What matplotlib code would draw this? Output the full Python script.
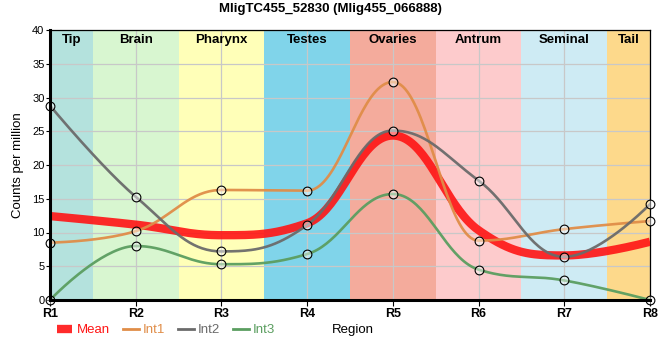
import numpy as np
import matplotlib
matplotlib.use('Agg')
import matplotlib.pyplot as plt
from matplotlib.lines import Line2D

plt.rcParams['font.family'] = ['Liberation Sans', 'DejaVu Sans']

# data
regions = ['R1', 'R2', 'R3', 'R4', 'R5', 'R6', 'R7', 'R8']
int1 = [8.5, 10.2, 16.3, 16.2, 32.3, 8.8, 10.5, 11.7]
int2 = [28.8, 15.3, 7.2, 11.1, 25.1, 17.7, 6.4, 14.2]
int3 = [0.0, 8.0, 5.3, 6.8, 15.7, 4.5, 2.9, 0.0]
mean = list(np.mean([int1, int2, int3], axis=0))

tissues = ['Tip', 'Brain', 'Pharynx', 'Testes', 'Ovaries', 'Antrum', 'Seminal', 'Tail']
tissue_colors = ['#b4e2dd', '#d8f6d0', '#ffffb8', '#80d4ea',
                 '#f4ab9c', '#fdcbcc', '#ceebf4', '#fdd98b']


def spline(xs, ys, n=40):
    # highcharts-like spline: control points at 0.4*dx, flattened at extremes
    xs = np.asarray(xs, float)
    ys = np.asarray(ys, float)
    m = len(xs)
    lc = [(x, y) for x, y in zip(xs, ys)]
    rc = [(x, y) for x, y in zip(xs, ys)]
    s, d = 1.5, 2.5
    for i in range(1, m - 1):
        lx, ly = xs[i - 1], ys[i - 1]
        px, py = xs[i], ys[i]
        nx, ny = xs[i + 1], ys[i + 1]
        lcx = (s * px + lx) / d
        lcy = (s * py + ly) / d
        rcx = (s * px + nx) / d
        rcy = (s * py + ny) / d
        corr = (rcy - lcy) * (rcx - px) / (rcx - lcx) + py - rcy
        lcy += corr
        rcy += corr
        if lcy > ly and lcy > py:
            lcy = max(ly, py)
            rcy = 2 * py - lcy
        elif lcy < ly and lcy < py:
            lcy = min(ly, py)
            rcy = 2 * py - lcy
        if rcy > ny and rcy > py:
            rcy = max(ny, py)
            lcy = 2 * py - rcy
        elif rcy < ny and rcy < py:
            rcy = min(ny, py)
            lcy = 2 * py - rcy
        lc[i] = (lcx, lcy)
        rc[i] = (rcx, rcy)
    t = np.linspace(0, 1, n)[:, None]
    out = []
    for i in range(m - 1):
        p0 = np.array([xs[i], ys[i]])
        p1 = np.array(rc[i])
        p2 = np.array(lc[i + 1])
        p3 = np.array([xs[i + 1], ys[i + 1]])
        b = ((1 - t) ** 3) * p0 + 3 * ((1 - t) ** 2) * t * p1 + 3 * (1 - t) * t ** 2 * p2 + t ** 3 * p3
        out.append(b if i == 0 else b[1:])
    out = np.vstack(out)
    return out[:, 0], out[:, 1]


fig = plt.figure(figsize=(6.6, 3.6), dpi=100)
ax = fig.add_axes([50 / 660, 60 / 360, 600 / 660, 270 / 360])

x = np.arange(len(regions))

# tissue bands
edges = [0, 0.5, 1.5, 2.5, 3.5, 4.5, 5.5, 6.5, 7]
for i, name in enumerate(tissues):
    ax.axvspan(edges[i], edges[i + 1], color=tissue_colors[i], lw=0, zorder=0)
    ax.text((edges[i] + edges[i + 1]) / 2, 39.4, name, ha='center', va='top',
            fontsize=9.5, fontweight='bold', zorder=5)

ax.grid(True, color='#c8c8c8', lw=0.9, zorder=1)

series = [
    ('Int1', int1, '#e08d48'),
    ('Int2', int2, '#6b6b6b'),
    ('Int3', int3, '#5b9e60'),
]

mx, my = spline(x, mean)
ax.plot(mx, my, color='#ff1414', lw=6, alpha=0.9, solid_capstyle='butt', zorder=3)
for name, vals, col in series:
    sx, sy = spline(x, vals)
    ax.plot(sx, sy, color=col, lw=1.9, alpha=0.95, zorder=4)
for name, vals, col in series:
    ax.plot(x, vals, 'o', ms=6.3, mfc=(1, 1, 1, 0.45), mec='black', mew=0.8,
            zorder=6, clip_on=False)

ax.set_xlim(0, 7)
ax.set_ylim(0, 40)
ax.set_xticks(x)
ax.set_xticklabels(regions, fontsize=9, fontweight='bold')
ax.set_yticks(np.arange(0, 41, 5))
ax.tick_params(axis='y', labelsize=8, length=3, pad=1)
ax.tick_params(axis='x', length=4, pad=2)

for side in ['left', 'bottom']:
    ax.spines[side].set_linewidth(2.2)
for side in ['top', 'right']:
    ax.spines[side].set_linewidth(0.9)
ax.spines['left'].set_zorder(7)
ax.spines['bottom'].set_zorder(7)

ax.set_ylabel('Counts per million', fontsize=9.5, labelpad=6)
fig.text(332 / 660, 1 - 330 / 360, 'Region', fontsize=9.5, va='center', ha='left')
fig.suptitle('MligTC455_52830 (Mlig455_066888)', fontsize=9.5, fontweight='bold',
             y=1 - 3 / 360, va='top')

handles = [Line2D([], [], color='#ff1414', lw=6, alpha=0.9, solid_capstyle='butt')]
handles += [Line2D([], [], color=c, lw=2) for _, _, c in series]
labels = ['Mean'] + [n for n, _, _ in series]
leg = fig.legend(handles, labels, loc='center left', bbox_to_anchor=(50 / 660, 1 - 330 / 360),
                 ncol=4, frameon=False, fontsize=9.5, handlelength=1.2,
                 handletextpad=0.3, columnspacing=1.0, borderpad=0, labelcolor='linecolor')

fig.savefig('out.png', dpi=100)
